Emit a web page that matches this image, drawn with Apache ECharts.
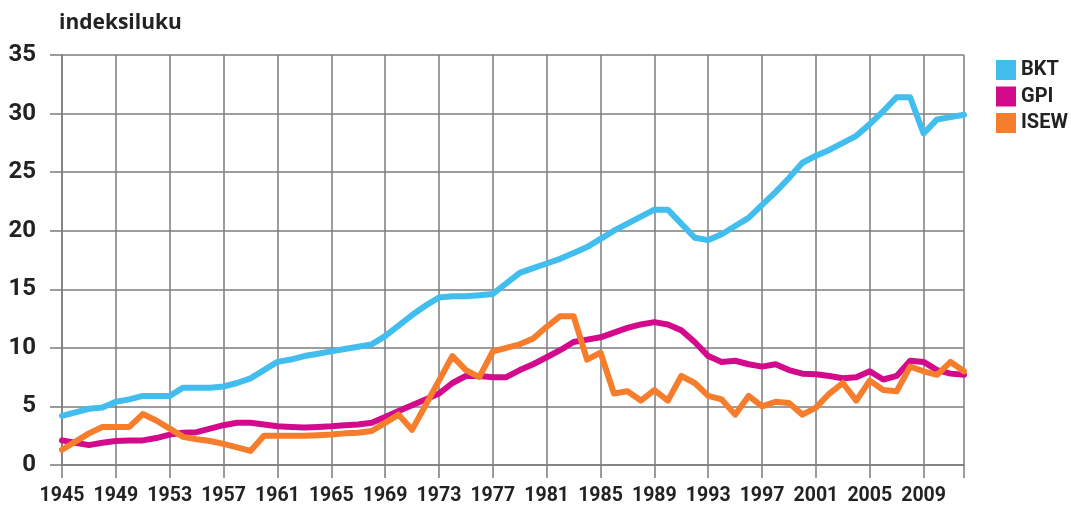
<!DOCTYPE html>
<html>
<head>
<meta charset="utf-8">
<script src="https://cdn.jsdelivr.net/npm/echarts@6/dist/echarts.min.js"></script>
<style>
  html, body { margin: 0; padding: 0; background: #fff; }
  #chart { width: 1071px; height: 508px; }
</style>
</head>
<body>
<div id="chart"></div>
<script>
// years 1945..2012
const years = []
for (let y = 1945; y <= 2012; y++) years.push(String(y))

const bkt = [
  4.2, 4.5, 4.8, 4.9, 5.4, 5.6, 5.9, 5.9, 5.9, 6.6,
  6.6, 6.6, 6.7, 7.0, 7.4, 8.1, 8.8, 9.0, 9.3, 9.5,
  9.7, 9.9, 10.1, 10.3, 11.0, 11.9, 12.8, 13.6, 14.3, 14.4,
  14.4, 14.5, 14.6, 15.5, 16.4, 16.8, 17.2, 17.6, 18.1, 18.6,
  19.3, 20.0, 20.6, 21.2, 21.8, 21.8, 20.6, 19.4, 19.2, 19.7,
  20.4, 21.1, 22.2, 23.3, 24.5, 25.8, 26.4, 26.9, 27.5, 28.1,
  29.1, 30.2, 31.4, 31.4, 28.3, 29.5, 29.7, 29.9
]
const gpi = [
  2.1, 1.9, 1.7, 1.9, 2.05, 2.1, 2.1, 2.3, 2.6, 2.75,
  2.8, 3.1, 3.4, 3.6, 3.6, 3.45, 3.3, 3.25, 3.2, 3.25,
  3.3, 3.4, 3.45, 3.6, 4.1, 4.6, 5.1, 5.6, 6.1, 7.0,
  7.6, 7.6, 7.5, 7.5, 8.1, 8.6, 9.2, 9.8, 10.5, 10.7,
  10.9, 11.3, 11.7, 12.0, 12.2, 12.0, 11.5, 10.5, 9.3, 8.8,
  8.9, 8.6, 8.4, 8.6, 8.1, 7.8, 7.75, 7.6, 7.4, 7.5,
  8.0, 7.3, 7.6, 8.9, 8.8, 8.1, 7.8, 7.7
]
const isew = [
  1.3, 2.0, 2.7, 3.25, 3.25, 3.25, 4.35, 3.8, 3.1, 2.4,
  2.2, 2.05, 1.8, 1.5, 1.2, 2.5, 2.5, 2.5, 2.5, 2.55,
  2.6, 2.7, 2.75, 2.9, 3.6, 4.3, 3.0, 5.1, 7.2, 9.3,
  8.1, 7.5, 9.7, 10.0, 10.3, 10.8, 11.8, 12.7, 12.7, 9.0,
  9.6, 6.1, 6.3, 5.5, 6.4, 5.5, 7.6, 7.0, 5.9, 5.6,
  4.3, 5.9, 5.0, 5.4, 5.3, 4.3, 4.9, 6.1, 7.0, 5.5,
  7.2, 6.4, 6.3, 8.4, 8.0, 7.7, 8.8, 8.0
]

const seriesNames = ['BKT', 'GPI', 'ISEW']
const seriesColors = ['#41bdee', '#d40a8d', '#f57d2c']
const seriesData = [bkt, gpi, isew]

const gridLine = {color: '#7c7c7c', width: 1.5}
const numFont = "Roboto, sans-serif"
const lastIdx = years.length - 1

const chart = echarts.init(document.getElementById('chart'))
chart.setOption({
  animation: false,
  title: {
    text: 'indeksiluku', left: 54, top: 8,
    textStyle: {fontFamily: "'Open Sans', sans-serif", fontWeight: 'bold', fontSize: 21, color: '#222'},
  },
  legend: {
    orient: 'vertical', left: 991, top: 55, icon: 'rect',
    itemWidth: 20, itemHeight: 20, itemGap: 6.5,
    textStyle: {fontFamily: numFont, fontWeight: 'bold', fontSize: 20, color: '#222'},
    data: seriesNames,
  },
  grid: {left: 62, right: 107, top: 55, bottom: 43, containLabel: false},
  xAxis: {
    type: 'category', data: years, boundaryGap: false,
    axisLine: {show: true, lineStyle: gridLine},
    axisTick: {show: true, length: 13, lineStyle: gridLine, interval: (i) => i % 4 === 0 || i === lastIdx},
    axisLabel: {
      interval: (i) => i % 4 === 0, margin: 21,
      fontFamily: numFont, fontWeight: 'bold', fontSize: 19.5, color: '#222',
    },
    splitLine: {show: true, lineStyle: gridLine, interval: (i) => i % 4 === 0 || i === lastIdx},
  },
  yAxis: {
    type: 'value', min: 0, max: 35, interval: 5,
    axisLine: {show: true, lineStyle: gridLine},
    axisTick: {show: true, length: 12, lineStyle: gridLine},
    axisLabel: {margin: 26, fontFamily: numFont, fontWeight: 'bold', fontSize: 24, color: '#222'},
    splitLine: {show: true, lineStyle: gridLine},
  },
  series: seriesNames.map((name, k) => ({
    name, type: 'line', data: seriesData[k], showSymbol: false, symbol: 'none',
    color: seriesColors[k],
    lineStyle: {width: 6, color: seriesColors[k], cap: 'round', join: 'round'},
  })),
})
</script>
</body>
</html>
